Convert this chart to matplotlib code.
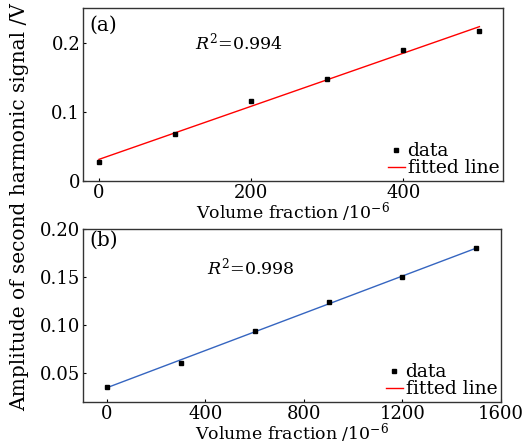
import matplotlib
matplotlib.use("Agg")
import matplotlib.pyplot as plt
from matplotlib.lines import Line2D
import numpy as np

plt.rcParams['font.family'] = ['DejaVu Serif']
plt.rcParams['mathtext.fontset'] = 'dejavuserif'

# panel (a)
conc_a = np.array([0, 100, 200, 300, 400, 500])
amp_a = np.array([0.027, 0.068, 0.116, 0.148, 0.190, 0.217])
r2_a = "0.994"

# panel (b)
conc_b = np.array([0, 300, 600, 900, 1200, 1500])
amp_b = np.array([0.036, 0.061, 0.094, 0.124, 0.150, 0.180])
r2_b = "0.998"

fig = plt.figure(figsize=(5.24, 4.45), dpi=100)
ax1 = fig.add_axes([83/524, 1-181/445, 420/524, 173/445])
ax2 = fig.add_axes([83/524, 1-402/445, 418/524, 173/445])


def panel(ax, x, y, fit_color, label, r2, r2_pos, lab_y):
    k, b = np.polyfit(x, y, 1)
    xx = np.array([x.min(), x.max()])
    ax.plot(xx, k*xx + b, color=fit_color, lw=1.0)
    ax.plot(x, y, 's', color='black', ms=2.2, mec='black')
    ax.text(0.015, lab_y, label, transform=ax.transAxes, fontsize=14.5, va='center')
    ax.text(r2_pos[0], r2_pos[1], r'$R^2$=' + r2, transform=ax.transAxes,
            fontsize=12.5, va='center')
    handles = [Line2D([], [], ls='none', marker='s', color='black', ms=3.5),
               Line2D([], [], color='red', lw=1.0)]
    ax.legend(handles, ['data', 'fitted line'], loc='lower right', frameon=False,
              fontsize=13.5, handlelength=0.9, handletextpad=0.15, labelspacing=-0.05,
              borderaxespad=0.1, borderpad=0.1)
    ax.tick_params(direction='in', length=2.5, labelsize=13, colors='black', pad=2)
    for s in ax.spines.values():
        s.set_linewidth(1.0)
        s.set_color('#333333')
    ax.set_xlabel('Volume fraction /10$^{-6}$', fontsize=12.5, labelpad=-1)


panel(ax1, conc_a, amp_a, 'red', '(a)', r2_a, (0.267, 0.80), 0.90)
ax1.set_xlim(-21, 531)
ax1.set_ylim(0, 0.251)
ax1.set_xticks([0, 200, 400])
ax1.set_yticks([0, 0.1, 0.2])
ax1.set_yticklabels(['0', '0.1', '0.2'])

panel(ax2, conc_b, amp_b, '#3565c0', '(b)', r2_b, (0.296, 0.78), 0.935)
ax2.set_xlim(-97, 1600)
ax2.set_ylim(0.02, 0.20)
ax2.set_xticks([0, 400, 800, 1200, 1600])
ax2.set_yticks([0.05, 0.10, 0.15, 0.20])
ax2.set_yticklabels(['0.05', '0.10', '0.15', '0.20'])

fig.text(20/524, 0.535, 'Amplitude of second harmonic signal /V', rotation=90,
         ha='center', va='center', fontsize=14.5)

fig.savefig('out.png', dpi=100)
